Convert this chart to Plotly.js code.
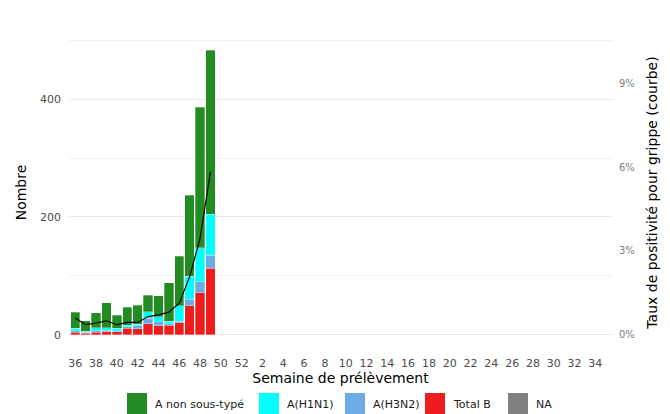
<!DOCTYPE html>
<html>
<head>
<meta charset="utf-8">
<script src="https://cdn.plot.ly/plotly-3.0.1.min.js"></script>
<style>html,body{margin:0;padding:0;background:#fff}#chart{width:670px;height:414px}</style>
</head>
<body>
<div id="chart"></div>
<script>
// ---- Data ----
var allWeeks = ["36","37","38","39","40","41","42","43","44","45","46","47","48","49","50","51","52",
  "1","2","3","4","5","6","7","8","9","10","11","12","13","14","15","16","17","18","19","20",
  "21","22","23","24","25","26","27","28","29","30","31","32","33","34","35"];
var dataWeeks = ["36","37","38","39","40","41","42","43","44","45","46","47","48","49"];
var aNonSousType = [27,18,25,42,22,31,32,28,35,65,84,138,238,278];
var aH1N1        = [4,2,5,4,4,2,3,11,9,4,26,39,58,70];
var aH3N2        = [3,1,3,3,2,3,5,9,7,3,3,11,19,22];
var totalB       = [4,3,4,5,5,11,10,19,15,16,20,49,71,113];
var naVals       = [0,0,0,0,0,0,0,0,0,0,0,0,0,0];
var tauxPositivite = [0.60,0.36,0.42,0.50,0.36,0.44,0.44,0.65,0.71,0.81,1.13,2.08,3.45,5.83];
var seriesNames  = ["A non sous-typé","A(H1N1)","A(H3N2)","Total B","NA"];
var seriesColors = ["#228b22","#00ffff","#6cace4","#ee1c1c","#808080"];
var yTickVals = [0,200,400];
var y2TickVals = [0,3,6,9];
var y2TickText = ["0%","3%","6%","9%"];

// ---- Geometry ----
var W = 670, H = 414;
var PL = 69, PR = 612, PT = 36, PB = 349;
var countsPerPct = 47.46;
var yMin = -24.15, yMax = 507.15;

var xIdx = dataWeeks.map(function(w){ return allWeeks.indexOf(w); });
var tickIdx = [], tickTxt = [];
for (var i = 0; i < allWeeks.length; i += 2) { tickIdx.push(i); tickTxt.push(allWeeks[i]); }

var stackOrder = [
  {name: seriesNames[4], y: naVals, c: seriesColors[4]},
  {name: seriesNames[3], y: totalB, c: seriesColors[3]},
  {name: seriesNames[2], y: aH3N2, c: seriesColors[2]},
  {name: seriesNames[1], y: aH1N1, c: seriesColors[1]},
  {name: seriesNames[0], y: aNonSousType, c: seriesColors[0]}
];
var traces = stackOrder.map(function(s){
  return {type:'bar', x:xIdx, y:s.y, name:s.name, width:0.9, showlegend:false,
    marker:{color:s.c, line:{color:'rgba(255,255,255,0.6)', width:0.5}}, hoverinfo:'x+y+name'};
});
traces.push({type:'scatter', mode:'lines', x:xIdx, y:tauxPositivite, yaxis:'y2',
  line:{color:'#000', width:1.2}, showlegend:false, name:'Taux'});

function px2x(p){ return (p-PL)/(PR-PL); }
function py2y(p){ return (PB-p)/(PB-PT); }

// legend (built from series names/colours)
var legX = [127,259,345,425,508];
var shapes = [], annotations = [];
for (var k = 0; k < seriesNames.length; k++) {
  shapes.push({type:'rect', xref:'paper', yref:'paper', x0:px2x(legX[k]), x1:px2x(legX[k]+20),
    y0:py2y(414), y1:py2y(393), fillcolor:seriesColors[k], line:{width:0}});
  annotations.push({xref:'paper', yref:'paper', x:px2x(legX[k]+26), y:py2y(404), xanchor:'left', yanchor:'middle',
    text:seriesNames[k], showarrow:false, font:{size:11, color:'#1a1a1a'}});
}

var layout = {
  width:W, height:H, paper_bgcolor:'#fff', plot_bgcolor:'#fff',
  font:{family:'DejaVu Sans, sans-serif', size:11, color:'#4d4d4d'},
  margin:{l:PL, r:W-PR, t:PT, b:H-PB, pad:0},
  barmode:'stack', bargap:0, showlegend:false,
  xaxis:{range:[-0.6,51.6], tickmode:'array', tickvals:tickIdx, ticktext:tickTxt, showgrid:false,
    zeroline:false, showline:false, ticks:'', ticklabelstandoff:6, tickfont:{size:11, color:'#4d4d4d'},
    title:{text:'Semaine de prélèvement', font:{size:14, color:'#000'}, standoff:2}},
  yaxis:{range:[yMin,yMax], tickmode:'array', tickvals:yTickVals, showgrid:true, gridcolor:'#e8e8e8', gridwidth:1,
    minor:{dtick:100, tick0:0, showgrid:true, gridcolor:'#f2f2f2', gridwidth:1, ticks:''},
    zeroline:false, showline:false, ticks:'', ticklabelstandoff:7, tickfont:{size:11, color:'#4d4d4d'},
    title:{text:'Nombre', font:{size:14, color:'#000'}, standoff:10}},
  yaxis2:{overlaying:'y', side:'right', range:[yMin/countsPerPct, yMax/countsPerPct], tickmode:'array',
    tickvals:y2TickVals, ticktext:y2TickText, showgrid:false, zeroline:false, showline:false, ticks:'',
    ticklabelstandoff:6, tickfont:{size:10, color:'#7f7f7f'},
    title:{text:'Taux de positivité pour grippe (courbe)', font:{size:14, color:'#000'}, standoff:13}},
  shapes:shapes, annotations:annotations
};
Plotly.newPlot('chart', traces, layout, {displayModeBar:false, staticPlot:true});
</script>
</body>
</html>
